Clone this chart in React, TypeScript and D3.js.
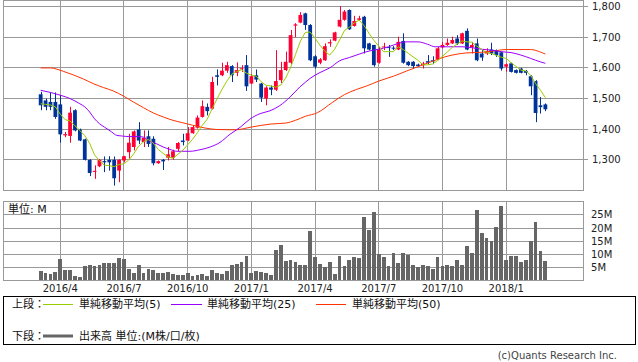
import React from 'react';
import * as d3 from 'd3';

// weekly candles, first week starting Monday 2016-03-07
const firstWeek = new Date(2016, 2, 7);

const opens = [
  1514, 1494, 1489, 1489, 1481, 1380, 1378, 1462, 1399, 1367,
  1300, 1261, 1279, 1296, 1300, 1300, 1265, 1298, 1325, 1342,
  1399, 1358, 1377, 1369, 1289, 1300, 1307, 1307, 1336, 1363,
  1363, 1387, 1405, 1440, 1473, 1467, 1576, 1576, 1591, 1606,
  1584, 1597, 1609, 1549, 1576, 1549, 1500, 1536, 1529, 1560,
  1593, 1617, 1738, 1748, 1778, 1740, 1638, 1617, 1625, 1680,
  1689, 1735, 1757, 1789, 1737, 1757, 1767, 1680, 1675, 1617,
  1667, 1668, 1666, 1660, 1688, 1620, 1620, 1611, 1609, 1622,
  1625, 1628, 1667, 1675, 1680, 1696, 1680, 1721, 1667, 1680,
  1647, 1647, 1660, 1658, 1651, 1604, 1615, 1593, 1598, 1590,
  1573, 1557, 1478, 1481,
];
const highs = [
  1522, 1500, 1520, 1520, 1511, 1391, 1473, 1465, 1402, 1369,
  1302, 1282, 1303, 1311, 1312, 1311, 1302, 1313, 1385, 1396,
  1423, 1396, 1396, 1377, 1298, 1303, 1342, 1333, 1358, 1385,
  1407, 1412, 1445, 1494, 1484, 1571, 1595, 1617, 1620, 1609,
  1618, 1609, 1642, 1580, 1595, 1551, 1540, 1543, 1658, 1620,
  1653, 1724, 1746, 1782, 1780, 1743, 1642, 1632, 1680, 1693,
  1718, 1802, 1789, 1791, 1770, 1770, 1770, 1682, 1675, 1669,
  1682, 1675, 1671, 1702, 1713, 1622, 1622, 1614, 1620, 1642,
  1638, 1669, 1685, 1696, 1702, 1707, 1715, 1729, 1685, 1696,
  1658, 1664, 1682, 1660, 1653, 1615, 1617, 1595, 1600, 1593,
  1576, 1560, 1505, 1484,
];
const lows = [
  1462, 1462, 1462, 1434, 1356, 1374, 1356, 1393, 1361, 1298,
  1247, 1238, 1276, 1260, 1265, 1216, 1227, 1292, 1303, 1331,
  1352, 1342, 1342, 1282, 1287, 1267, 1298, 1300, 1328, 1347,
  1361, 1385, 1402, 1438, 1445, 1464, 1543, 1573, 1584, 1554,
  1573, 1587, 1525, 1547, 1554, 1489, 1478, 1511, 1525, 1551,
  1590, 1612, 1700, 1746, 1724, 1622, 1598, 1612, 1623, 1669,
  1687, 1732, 1754, 1724, 1735, 1754, 1647, 1658, 1604, 1614,
  1658, 1636, 1658, 1658, 1614, 1606, 1598, 1604, 1598, 1612,
  1612, 1625, 1664, 1672, 1678, 1675, 1678, 1658, 1647, 1622,
  1623, 1642, 1642, 1636, 1591, 1587, 1585, 1582, 1582, 1576,
  1511, 1423, 1451, 1459,
];
const closes = [
  1478, 1473, 1473, 1440, 1383, 1384, 1454, 1396, 1363, 1300,
  1257, 1264, 1300, 1292, 1292, 1240, 1300, 1312, 1356, 1393,
  1363, 1372, 1352, 1289, 1296, 1295, 1318, 1328, 1355, 1358,
  1387, 1407, 1438, 1475, 1459, 1554, 1571, 1591, 1609, 1576,
  1593, 1599, 1540, 1573, 1562, 1503, 1536, 1529, 1557, 1593,
  1620, 1707, 1742, 1773, 1740, 1625, 1604, 1628, 1671, 1684,
  1716, 1757, 1784, 1726, 1753, 1762, 1664, 1660, 1609, 1660,
  1670, 1665, 1663, 1685, 1617, 1609, 1606, 1606, 1614, 1617,
  1621, 1664, 1675, 1682, 1691, 1680, 1713, 1660, 1675, 1625,
  1634, 1655, 1647, 1642, 1598, 1612, 1587, 1584, 1584, 1584,
  1540, 1453, 1472, 1465,
];
// volume, millions
const volumes = [
  3.7, 2.8, 2.5, 3.2, 8.3, 4.0, 4.0, 1.7, 1.2, 5.6,
  5.9, 5.7, 5.9, 6.7, 6.7, 6.7, 8.7, 8.3, 4.5, 2.8,
  5.9, 2.8, 4.4, 4.0, 2.8, 2.8, 3.2, 2.5, 2.1, 2.1,
  2.8, 1.7, 2.1, 2.5, 1.7, 4.0, 2.8, 2.5, 3.6, 5.9,
  6.3, 7.1, 9.4, 3.0, 3.6, 3.2, 2.8, 2.1, 11.8, 13.7,
  7.5, 7.9, 7.1, 5.9, 5.9, 18.9, 9.0, 6.3, 5.2, 7.1,
  2.5, 9.4, 5.6, 7.9, 9.0, 8.7, 24.2, 19.3, 26.1, 10.1,
  9.0, 5.6, 10.6, 6.7, 10.6, 9.8, 5.9, 5.2, 5.9, 5.6,
  4.5, 9.0, 5.6, 5.9, 5.6, 7.9, 5.9, 13.3, 10.6, 27.0,
  18.1, 16.1, 15.0, 20.3, 28.4, 7.9, 9.4, 9.4, 7.1, 7.9,
  15.0, 22.2, 11.4, 7.5,
];
// 5-week simple moving average, one value per candle
const ma5 = [
  1483, 1481, 1479, 1473, 1449, 1431, 1427, 1411, 1396, 1379,
  1354, 1316, 1297, 1283, 1281, 1278, 1285, 1287, 1300, 1320,
  1345, 1359, 1367, 1354, 1334, 1321, 1310, 1305, 1318, 1331,
  1349, 1367, 1389, 1413, 1433, 1467, 1499, 1530, 1557, 1580,
  1588, 1594, 1583, 1576, 1573, 1555, 1543, 1541, 1537, 1544,
  1567, 1601, 1644, 1687, 1716, 1717, 1697, 1674, 1654, 1642,
  1661, 1691, 1722, 1733, 1747, 1756, 1738, 1713, 1690, 1671,
  1653, 1653, 1653, 1669, 1660, 1648, 1636, 1625, 1610, 1610,
  1613, 1624, 1638, 1652, 1667, 1678, 1688, 1685, 1684, 1671,
  1661, 1650, 1647, 1641, 1635, 1631, 1617, 1605, 1593, 1590,
  1576, 1549, 1527, 1503,
];
// 25-week SMA: [week index, value]
const ma25: [number, number][] = [
  [0, 1527], [2, 1520], [4, 1511], [6, 1500], [8, 1483], [9, 1473], [10, 1456],
  [11, 1434], [12, 1418], [13, 1407], [14.5, 1391], [15.5, 1380], [16.5, 1378],
  [18, 1376], [20, 1376], [21, 1374], [22, 1363], [23.7, 1352], [25, 1342],
  [26.4, 1334], [27.8, 1328], [30.5, 1328], [32.5, 1333], [34.6, 1342],
  [36.6, 1357], [38.6, 1383], [40.7, 1406], [42.7, 1433], [44.8, 1451],
  [46.8, 1460], [48.8, 1477], [50.9, 1505], [52.9, 1538], [54, 1553],
  [55, 1566], [57, 1585], [59, 1600], [61, 1623], [63, 1634], [65, 1645],
  [67, 1655], [69, 1661], [71, 1669], [73, 1680], [74.5, 1685], [77, 1685],
  [79, 1677], [80.5, 1669], [83, 1669], [86, 1669], [88, 1666], [90, 1661],
  [92, 1658], [94, 1653], [96, 1650], [98, 1642], [100, 1631], [101, 1625],
  [103, 1615],
];
// 50-week SMA
const ma50: [number, number][] = [
  [0, 1600], [2, 1600], [3.3, 1596], [4.6, 1589], [6.7, 1577], [8.7, 1564],
  [10.7, 1549], [12.8, 1536], [14.8, 1525], [16.9, 1508], [18.9, 1489],
  [21, 1470], [23, 1453], [25, 1440], [27, 1429], [29, 1421], [31, 1413],
  [33.5, 1404], [36, 1399], [39.7, 1398], [43, 1407], [47, 1417], [50, 1420],
  [52, 1429], [54, 1442], [56.5, 1454], [59.5, 1487], [62, 1513], [64.5, 1530],
  [66.5, 1541], [69, 1557], [72, 1573], [74.7, 1590], [77, 1604], [80, 1622],
  [82.5, 1636], [85, 1645], [87, 1649], [90, 1651], [92.4, 1655], [95, 1660],
  [100, 1660], [101.8, 1653], [103, 1645],
];

const priceTicks = [1300, 1400, 1500, 1600, 1700, 1800];
const volTicks = [5, 10, 15, 20, 25];

const C_UP = '#ff0033';
const C_DN = '#003399';
const C_MA5 = '#99cc00';
const C_MA25 = '#9900ff';
const C_MA50 = '#ff3300';
const C_GRID = '#999999';
const C_VOL = '#666666';

const FONT = "'DejaVu Sans','Noto Sans CJK JP',sans-serif";

export default function App() {
  const n = closes.length;
  const dates = d3.range(n).map((i) => d3.timeMonday.offset(firstWeek, i));

  const x = d3.scaleLinear().domain([0, n - 1]).range([40.67, 40.67 + 4.9 * (n - 1)]);
  const yP = d3.scaleLinear().domain([1200, 1820]).range([190.5, 0.5]);
  const yV = d3.scaleLinear().domain([0, 30]).range([280.5, 201.8]);

  const qIdx = d3.range(1, n).filter(
    (i) => dates[i].getMonth() !== dates[i - 1].getMonth() && dates[i].getMonth() % 3 === 0
  );
  const fmt = (d: Date) => `${d.getFullYear()}/${d.getMonth() + 1}`;

  const line = d3
    .line<[number, number]>()
    .x((d) => x(d[0]))
    .y((d) => yP(d[1]));
  const smooth = d3
    .line<[number, number]>()
    .x((d) => x(d[0]))
    .y((d) => yP(d[1]))
    .curve(d3.curveMonotoneX);

  const L = 3.5, R = 583.5;
  const crisp = (v: number) => Math.floor(v) + 0.5;

  return (
    <svg
      width={638}
      height={362}
      style={{ position: 'absolute', left: 0, top: 0, background: '#fff' }}
      fontFamily={FONT}
    >
      <rect x={0} y={0} width={638} height={362} fill="#fff" />
      {/* price panel grid */}
      <g shapeRendering="crispEdges" stroke={C_GRID} strokeWidth={1}>
        {priceTicks.map((t) => (
          <line key={t} x1={L} x2={R + 4} y1={crisp(yP(t))} y2={crisp(yP(t))} />
        ))}
        {qIdx.map((i) => (
          <line key={'p' + i} x1={crisp(x(i))} x2={crisp(x(i))} y1={0.5} y2={190.5} />
        ))}
        <rect x={L} y={0.5} width={R - L} height={190} fill="none" />
      </g>
      {priceTicks.map((t) => (
        <text key={t} x={592} y={crisp(yP(t))} dy="0.35em" fontSize={10} fill="#222">
          {d3.format(',')(t)}
        </text>
      ))}
      {/* candles */}
      <g>
        {closes.map((c, i) => {
          const o = opens[i];
          const up = c >= o;
          const col = up ? C_UP : C_DN;
          const cx = x(i);
          const top = yP(Math.max(o, c));
          const h = Math.max(1, Math.abs(yP(o) - yP(c)));
          return (
            <g key={i}>
              <line
                x1={Math.round(cx) + 0.5}
                x2={Math.round(cx) + 0.5}
                y1={yP(highs[i])}
                y2={yP(lows[i])}
                stroke={col}
                strokeWidth={1}
              />
              <rect x={cx - 1.9} y={top} width={3.8} height={h} fill={col} />
            </g>
          );
        })}
      </g>
      {/* moving averages */}
      <path d={smooth(ma50) || ''} fill="none" stroke={C_MA50} strokeWidth={1} />
      <path d={smooth(ma25) || ''} fill="none" stroke={C_MA25} strokeWidth={1} />
      <path
        d={line(ma5.map((v, i) => [i, v] as [number, number])) || ''}
        fill="none"
        stroke={C_MA5}
        strokeWidth={1}
      />

      {/* volume panel */}
      <g shapeRendering="crispEdges" stroke={C_GRID} strokeWidth={1}>
        {volTicks.map((t) => (
          <line key={t} x1={L} x2={R} y1={crisp(yV(t))} y2={crisp(yV(t))} />
        ))}
        {qIdx.map((i) => (
          <line key={'v' + i} x1={crisp(x(i))} x2={crisp(x(i))} y1={201.5} y2={280.5} />
        ))}
      </g>
      <g shapeRendering="crispEdges">
        {volumes.map((v, i) => (
          <rect
            key={i}
            x={x(i) - 1.9}
            y={yV(v)}
            width={3.8}
            height={yV(0) - yV(v)}
            fill={C_VOL}
          />
        ))}
      </g>
      <rect
        x={L}
        y={201.5}
        width={R - L}
        height={79}
        fill="none"
        stroke={C_GRID}
        strokeWidth={1}
        shapeRendering="crispEdges"
      />
      <text x={8} y={209.5} dy="0.35em" fontSize={11} fill="#111">
        単位: M
      </text>
      {volTicks.map((t) => (
        <text key={t} x={591} y={crisp(yV(t))} dy="0.35em" fontSize={10} fill="#222">
          {t}M
        </text>
      ))}
      {qIdx.map((i) => (
        <text
          key={'d' + i}
          x={x(i)}
          y={288.5}
          dy="0.35em"
          fontSize={10}
          textAnchor="middle"
          fill="#222"
        >
          {fmt(dates[i])}
        </text>
      ))}

      {/* legend */}
      <rect
        x={3.5}
        y={296.5}
        width={632}
        height={48}
        fill="none"
        stroke="#000"
        strokeWidth={1}
        shapeRendering="crispEdges"
      />
      <g fontSize={11} fill="#111">
        <text x={12} y={304} dy="0.35em">上段：</text>
        <line x1={43} x2={73} y1={304.5} y2={304.5} stroke={C_MA5} strokeWidth={1} />
        <text x={79} y={304} dy="0.35em">単純移動平均(5)</text>
        <line x1={171} x2={202} y1={304.5} y2={304.5} stroke={C_MA25} strokeWidth={1} />
        <text x={207} y={304} dy="0.35em">単純移動平均(25)</text>
        <line x1={316} x2={346} y1={304.5} y2={304.5} stroke={C_MA50} strokeWidth={1} />
        <text x={352} y={304} dy="0.35em">単純移動平均(50)</text>
        <text x={12} y={336} dy="0.35em">下段：</text>
        <line x1={43} x2={73} y1={336} y2={336} stroke={C_VOL} strokeWidth={3} />
        <text x={79} y={336} dy="0.35em">出来高 単位:(M株/口/枚)</text>
      </g>
      <text x={617} y={355} dy="0.35em" fontSize={10} textAnchor="end" fill="#444">
        (c)Quants Research Inc.
      </text>
    </svg>
  );
}
